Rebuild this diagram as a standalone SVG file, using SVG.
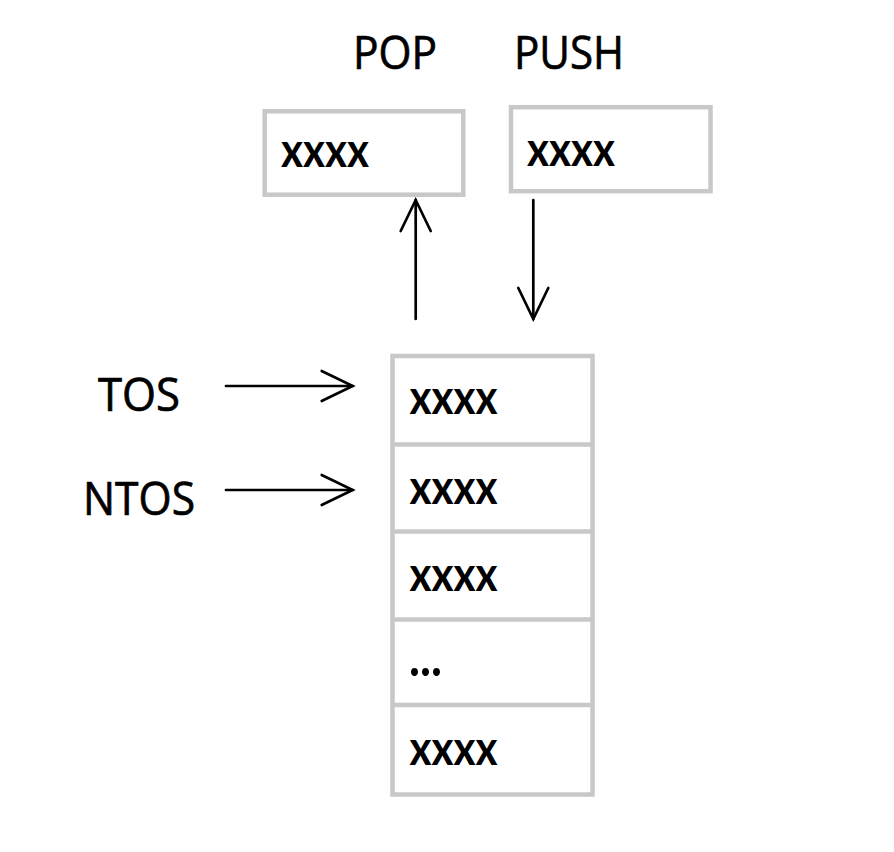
<svg xmlns="http://www.w3.org/2000/svg" width="894" height="852" viewBox="0 0 894 852">
<style>
.box{fill:#fff;stroke:#c8c8c8;stroke-width:4.5}
.lbl{font-family:"Open Sans",Lato,"Liberation Sans",sans-serif;font-size:45px;fill:#000;stroke:#000;stroke-width:0.7}
.val{font-family:Lato,"Open Sans","Liberation Sans",sans-serif;font-size:47px;font-weight:bold;fill:#000}
.dots{font-size:54px}
.conn{fill:none;stroke:#000;stroke-width:2.7;stroke-linecap:round}
</style>
<defs>
<marker id="arr" markerUnits="userSpaceOnUse" orient="auto" markerWidth="40" markerHeight="40" refX="0" refY="0" overflow="visible">
<path d="M-31,-15 L0,0 L-31,15" fill="none" stroke="#000" stroke-width="2.7" stroke-linecap="round" stroke-linejoin="miter"/>
</marker>
</defs>
<rect width="894" height="852" fill="#fff"/>
<g id="labels">
<text class="lbl" x="353" y="69" textLength="84" lengthAdjust="spacingAndGlyphs">POP</text>
<text class="lbl" x="514" y="69" textLength="110" lengthAdjust="spacingAndGlyphs">PUSH</text>
<text class="lbl" x="98" y="411" textLength="82" lengthAdjust="spacingAndGlyphs">TOS</text>
<text class="lbl" x="83" y="515" textLength="112" lengthAdjust="spacingAndGlyphs">NTOS</text>
</g>
<g id="pop-box">
<rect class="box" x="264.7" y="111.3" width="198.6" height="83.4"/>
<text class="val" x="281" y="167" textLength="88" lengthAdjust="spacingAndGlyphs">xxxx</text>
</g>
<g id="push-box">
<rect class="box" x="511" y="107.2" width="199.5" height="84"/>
<text class="val" x="527" y="166" textLength="88" lengthAdjust="spacingAndGlyphs">xxxx</text>
</g>
<g id="stack">
<rect class="box" x="392.5" y="356" width="200" height="438.5"/>
<line class="box" x1="392.5" y1="444.5" x2="592.5" y2="444.5"/>
<line class="box" x1="392.5" y1="531.5" x2="592.5" y2="531.5"/>
<line class="box" x1="392.5" y1="619.5" x2="592.5" y2="619.5"/>
<line class="box" x1="392.5" y1="705" x2="592.5" y2="705"/>
<text class="val" x="409.5" y="413.5" textLength="88" lengthAdjust="spacingAndGlyphs">xxxx</text>
<text class="val" x="409.5" y="503.5" textLength="88" lengthAdjust="spacingAndGlyphs">xxxx</text>
<text class="val" x="409.5" y="591" textLength="88" lengthAdjust="spacingAndGlyphs">xxxx</text>
<text class="val dots" x="409" y="676" textLength="33" lengthAdjust="spacingAndGlyphs">...</text>
<text class="val" x="409.5" y="765" textLength="88" lengthAdjust="spacingAndGlyphs">xxxx</text>
</g>
<g id="connectors">
<line class="conn" x1="415.7" y1="319" x2="415.7" y2="200" marker-end="url(#arr)"/>
<line class="conn" x1="533.3" y1="200" x2="533.3" y2="319" marker-end="url(#arr)"/>
<line class="conn" x1="226" y1="386" x2="352.7" y2="386" marker-end="url(#arr)"/>
<line class="conn" x1="226" y1="490" x2="352.7" y2="490" marker-end="url(#arr)"/>
</g>
</svg>
